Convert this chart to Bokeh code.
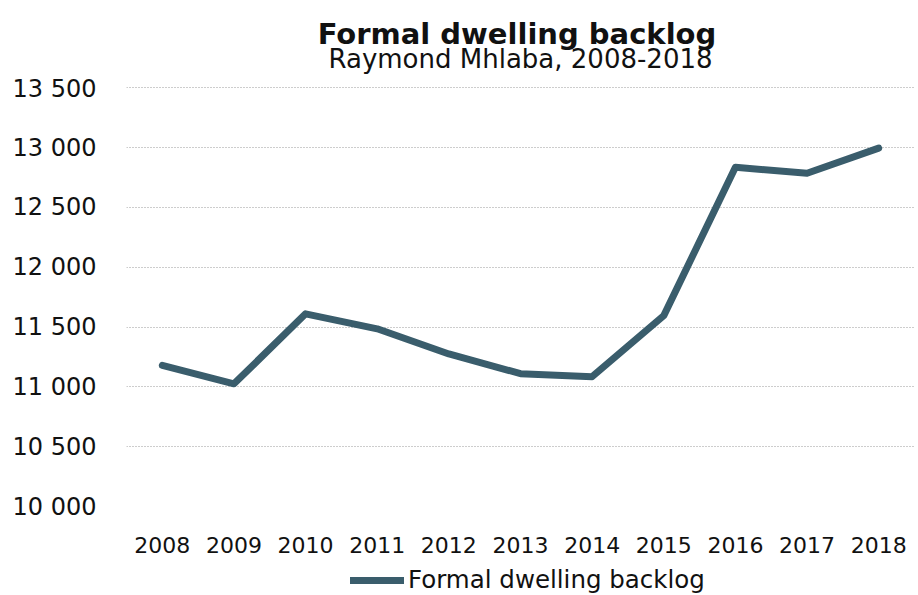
from bokeh.plotting import figure
from bokeh.layouts import column
from bokeh.models import FixedTicker, Legend, LegendItem, Label, Range1d
from bokeh.embed import file_html
from bokeh.resources import INLINE

years = ["2008", "2009", "2010", "2011", "2012", "2013", "2014", "2015", "2016", "2017", "2018"]
backlog = [11180, 11025, 11610, 11485, 11275, 11110, 11085, 11595, 12835, 12785, 12995]
y_ticks = [10000, 10500, 11000, 11500, 12000, 12500, 13000, 13500]
y_tick_labels = ["10 000", "10 500", "11 000", "11 500", "12 000", "12 500", "13 000", "13 500"]
series_name = "Formal dwelling backlog"
title_text = "Formal dwelling backlog"
subtitle_text = "Raymond Mhlaba, 2008-2018"

FONT = "DejaVu Sans"
LINE_COLOR = "#3a5d6c"

# title strip
tf = figure(width=918, height=74, x_range=Range1d(0, 1), y_range=Range1d(0, 1),
            output_backend="svg", toolbar_location=None, x_axis_type=None, y_axis_type=None,
            min_border=0)
tf.outline_line_color = None
tf.grid.visible = False
tf.add_layout(Label(x=0.4955, y=41, y_units="screen", text=title_text, text_align="center",
                    text_baseline="alphabetic", text_font=FONT, text_font_size="29px",
                    text_font_style="bold", text_color="#111111"))
tf.add_layout(Label(x=0.5, y=16, y_units="screen", text=subtitle_text, text_align="center",
                    text_baseline="alphabetic", text_font=FONT, text_font_size="26px",
                    text_color="#111111"))

# main chart
p = figure(width=918, height=486, x_range=years, y_range=Range1d(10000, 13510),
           output_backend="svg", toolbar_location=None,
           min_border_left=126, min_border_right=4, min_border_top=12, min_border_bottom=54)

p.line(years, backlog, line_color=LINE_COLOR, line_width=7, line_join="round", line_cap="round")

p.outline_line_color = None
p.xgrid.grid_line_color = None
p.ygrid.ticker = FixedTicker(ticks=y_ticks[1:])
p.ygrid.grid_line_color = "#9a9a9a"
p.ygrid.grid_line_dash = "1 2"
p.ygrid.grid_line_width = 1

p.yaxis.ticker = FixedTicker(ticks=y_ticks)
p.yaxis.major_label_overrides = {t: l for t, l in zip(y_ticks, y_tick_labels)}
p.yaxis.axis_line_color = None
p.yaxis.major_tick_line_color = None
p.yaxis.minor_tick_line_color = None
p.yaxis.major_label_text_font = FONT
p.yaxis.major_label_text_font_size = "24px"
p.yaxis.major_label_text_color = "#111111"
p.yaxis.major_label_standoff = 24

p.xaxis.axis_line_color = None
p.xaxis.major_tick_line_color = None
p.xaxis.major_label_text_font = FONT
p.xaxis.major_label_text_font_size = "22px"
p.xaxis.major_label_text_color = "#111111"
p.xaxis.major_label_standoff = 24

# legend strip below the chart (series drawn outside its visible range, only the legend shows)
lg = figure(width=918, height=35, x_range=years, y_range=Range1d(0, 1),
            output_backend="svg", toolbar_location=None, x_axis_type=None, y_axis_type=None,
            min_border=0)
lg.outline_line_color = None
lg.grid.visible = False
rl = lg.line(years, backlog, line_color=LINE_COLOR, line_width=7, line_cap="round")
legend = Legend(items=[LegendItem(label=series_name, renderers=[rl])],
                location=(224, 1), orientation="horizontal",
                label_text_font=FONT, label_text_font_size="24.5px", label_text_color="#111111",
                glyph_width=54, glyph_height=22, label_standoff=4,
                border_line_color=None, background_fill_alpha=0, padding=0, margin=0)
lg.add_layout(legend)

layout = column(tf, p, lg, spacing=0)
open("out.html", "w").write(file_html(layout, INLINE))
